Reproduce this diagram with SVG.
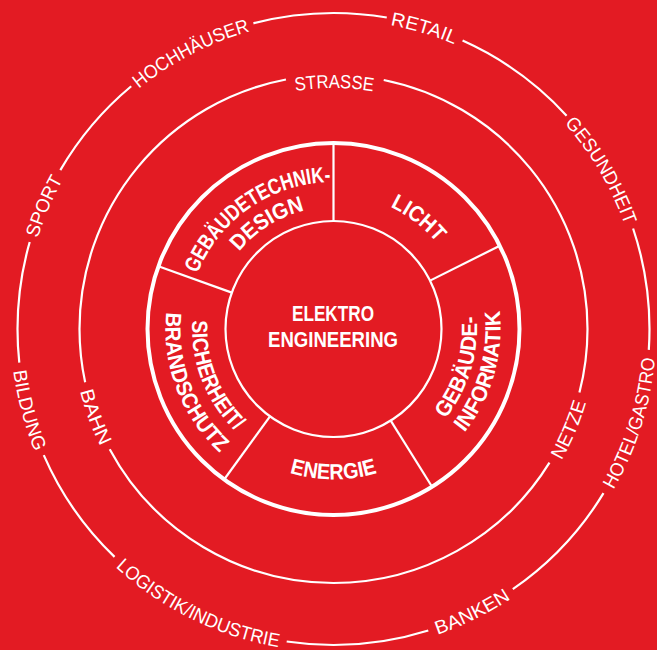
<svg xmlns="http://www.w3.org/2000/svg" xmlns:xlink="http://www.w3.org/1999/xlink" width="657" height="650" viewBox="0 0 657 650">
<style>
.bg{fill:#E31B23}
.ln{fill:none;stroke:#fff;stroke-width:2.2}
.thick{fill:none;stroke:#fff;stroke-width:4}
.lab{fill:#fff;font-family:"Liberation Sans Narrow","Liberation Sans",Arial,sans-serif;font-size:19px;text-anchor:middle}
.seg{fill:#fff;font-family:"Liberation Sans Narrow","Liberation Sans",Arial,sans-serif;font-size:22px;font-weight:bold;text-anchor:middle}
</style>
<defs>
<path id="pSPORT" d="M188.34,602.01 A309.2,309.2 0 0 1 429.05,34.93"/>
<path id="pHOCH" d="M47.52,446.58 A309.2,309.2 0 0 1 594.71,163.55"/>
<path id="pRETAIL" d="M46.41,214.17 A309.2,309.2 0 0 1 636.17,392.23"/>
<path id="pGESUND" d="M199.66,50.27 A309.2,309.2 0 0 1 513.72,580.26"/>
<path id="pHOTEL" d="M263.36,644.09 A322.8,322.8 0 0 0 457.3,30.87"/>
<path id="pBANKEN" d="M56.95,495.5 A322.8,322.8 0 0 0 634.76,213.06"/>
<path id="pLOGI" d="M32.44,212.53 A322.8,322.8 0 0 0 609.76,495.98"/>
<path id="pBILD" d="M223.63,25.47 A322.8,322.8 0 0 0 389.0,647.0"/>
<path id="pSTRASSE" d="M93.49,307.16 A241,241 0 0 1 573.65,308.83"/>
<path id="pNETZE" d="M251.79,578.99 A263,263 0 0 0 457.38,97.0"/>
<path id="pBAHN" d="M222.25,93.11 A260.8,260.8 0 0 0 402.1,580.62"/>
<path id="pGTD1" d="M205.56,401.39 A147,147 0 0 1 446.93,235.5"/>
<path id="pGTD2" d="M224.99,384.76 A122,122 0 0 1 430.68,255.24"/>
<path id="pLICHT" d="M234.34,238.13 A134.5,134.5 0 0 1 446.94,401.27"/>
<path id="pGI1" d="M304.17,469.37 A143.4,143.4 0 0 0 386.75,195.85"/>
<path id="pGI2" d="M301.63,492.93 A167,167 0 0 0 393.35,173.09"/>
<path id="pENERGIE" d="M183.67,342.11 A150.4,150.4 0 0 0 483.33,342.11"/>
<path id="pSB1" d="M270.63,202.35 A141.4,141.4 0 0 0 373.42,464.65"/>
<path id="pSB2" d="M260.12,177.87 A168,168 0 0 0 379.53,490.57"/>
</defs>
<rect class="bg" x="0" y="0" width="657" height="650"/>
<g id="rings">
<circle class="ln" cx="333.5" cy="329" r="316" stroke-dasharray="20.96 151.67 132.92 94.31 143.40 194.69 124.64 95.97 121.89 78.32 110.30 138.43 134.57 79.42 129.06 131.81 103.13 0"/>
<circle class="ln" cx="333.5" cy="329" r="254" stroke-dasharray="64.28 76.47 531.76 71.37 404.75 98.42 348.89 0"/>
</g>
<g id="outer-labels">
<text class="lab"><textPath xlink:href="#pSPORT" startOffset="50%" textLength="64" lengthAdjust="spacingAndGlyphs">SPORT</textPath></text>
<text class="lab"><textPath xlink:href="#pHOCH" startOffset="50%" textLength="126" lengthAdjust="spacingAndGlyphs">HOCHHÄUSER</textPath></text>
<text class="lab"><textPath xlink:href="#pRETAIL" startOffset="50%" textLength="67" lengthAdjust="spacingAndGlyphs">RETAIL</textPath></text>
<text class="lab"><textPath xlink:href="#pGESUND" startOffset="50%" textLength="119" lengthAdjust="spacingAndGlyphs">GESUNDHEIT</textPath></text>
<text class="lab"><textPath xlink:href="#pHOTEL" startOffset="50%" textLength="139" lengthAdjust="spacingAndGlyphs">HOTEL/GASTRO</textPath></text>
<text class="lab"><textPath xlink:href="#pBANKEN" startOffset="50%" textLength="82" lengthAdjust="spacingAndGlyphs">BANKEN</textPath></text>
<text class="lab"><textPath xlink:href="#pLOGI" startOffset="50%" textLength="184" lengthAdjust="spacingAndGlyphs">LOGISTIK/INDUSTRIE</textPath></text>
<text class="lab"><textPath xlink:href="#pBILD" startOffset="50%" textLength="84" lengthAdjust="spacingAndGlyphs">BILDUNG</textPath></text>
</g>
<g id="middle-labels">
<text class="lab"><textPath xlink:href="#pSTRASSE" startOffset="50%" textLength="78" lengthAdjust="spacingAndGlyphs">STRASSE</textPath></text>
<text class="lab"><textPath xlink:href="#pNETZE" startOffset="50%" textLength="63" lengthAdjust="spacingAndGlyphs">NETZE</textPath></text>
<text class="lab"><textPath xlink:href="#pBAHN" startOffset="50%" textLength="59" lengthAdjust="spacingAndGlyphs">BAHN</textPath></text>
</g>
<g id="ring">
<circle class="thick" cx="333.5" cy="329" r="186"/>
<circle class="ln" cx="333.5" cy="329" r="108" stroke-width="2.5"/>
<g id="dividers" class="ln" stroke-width="2.5">
<line x1="333.5" y1="221" x2="333.5" y2="143"/>
<line x1="430.07" y1="280.64" x2="499.81" y2="245.72"/>
<line x1="390.73" y1="420.59" x2="432.06" y2="486.74"/>
<line x1="270.02" y1="416.37" x2="224.17" y2="479.48"/>
<line x1="231.82" y1="292.59" x2="158.39" y2="266.3"/>
</g>
</g>
<g id="seg-gebaeudetechnik">
<text class="seg"><textPath xlink:href="#pGTD1" startOffset="50%" textLength="171" lengthAdjust="spacingAndGlyphs">GEBÄUDETECHNIK-</textPath></text>
<text class="seg"><textPath xlink:href="#pGTD2" startOffset="50%" textLength="79" lengthAdjust="spacingAndGlyphs">DESIGN</textPath></text>
</g>
<g id="seg-licht">
<text class="seg"><textPath xlink:href="#pLICHT" startOffset="50%" textLength="59" lengthAdjust="spacingAndGlyphs">LICHT</textPath></text>
</g>
<g id="seg-gebaeudeinformatik">
<text class="seg"><textPath xlink:href="#pGI1" startOffset="50%" textLength="110" lengthAdjust="spacingAndGlyphs">GEBÄUDE-</textPath></text>
<text class="seg"><textPath xlink:href="#pGI2" startOffset="50%" textLength="130" lengthAdjust="spacingAndGlyphs">INFORMATIK</textPath></text>
</g>
<g id="seg-energie">
<text class="seg"><textPath xlink:href="#pENERGIE" startOffset="50%" textLength="89" lengthAdjust="spacingAndGlyphs">ENERGIE</textPath></text>
</g>
<g id="seg-sicherheit">
<text class="seg"><textPath xlink:href="#pSB1" startOffset="50%" textLength="123" lengthAdjust="spacingAndGlyphs">SICHERHEIT/</textPath></text>
<text class="seg"><textPath xlink:href="#pSB2" startOffset="50%" textLength="156" lengthAdjust="spacingAndGlyphs">BRANDSCHUTZ</textPath></text>
</g>
<g id="center">
<text class="seg" x="333" y="321" textLength="82" lengthAdjust="spacingAndGlyphs">ELEKTRO</text>
<text class="seg" x="333" y="347" textLength="130" lengthAdjust="spacingAndGlyphs">ENGINEERING</text>
</g>
</svg>
